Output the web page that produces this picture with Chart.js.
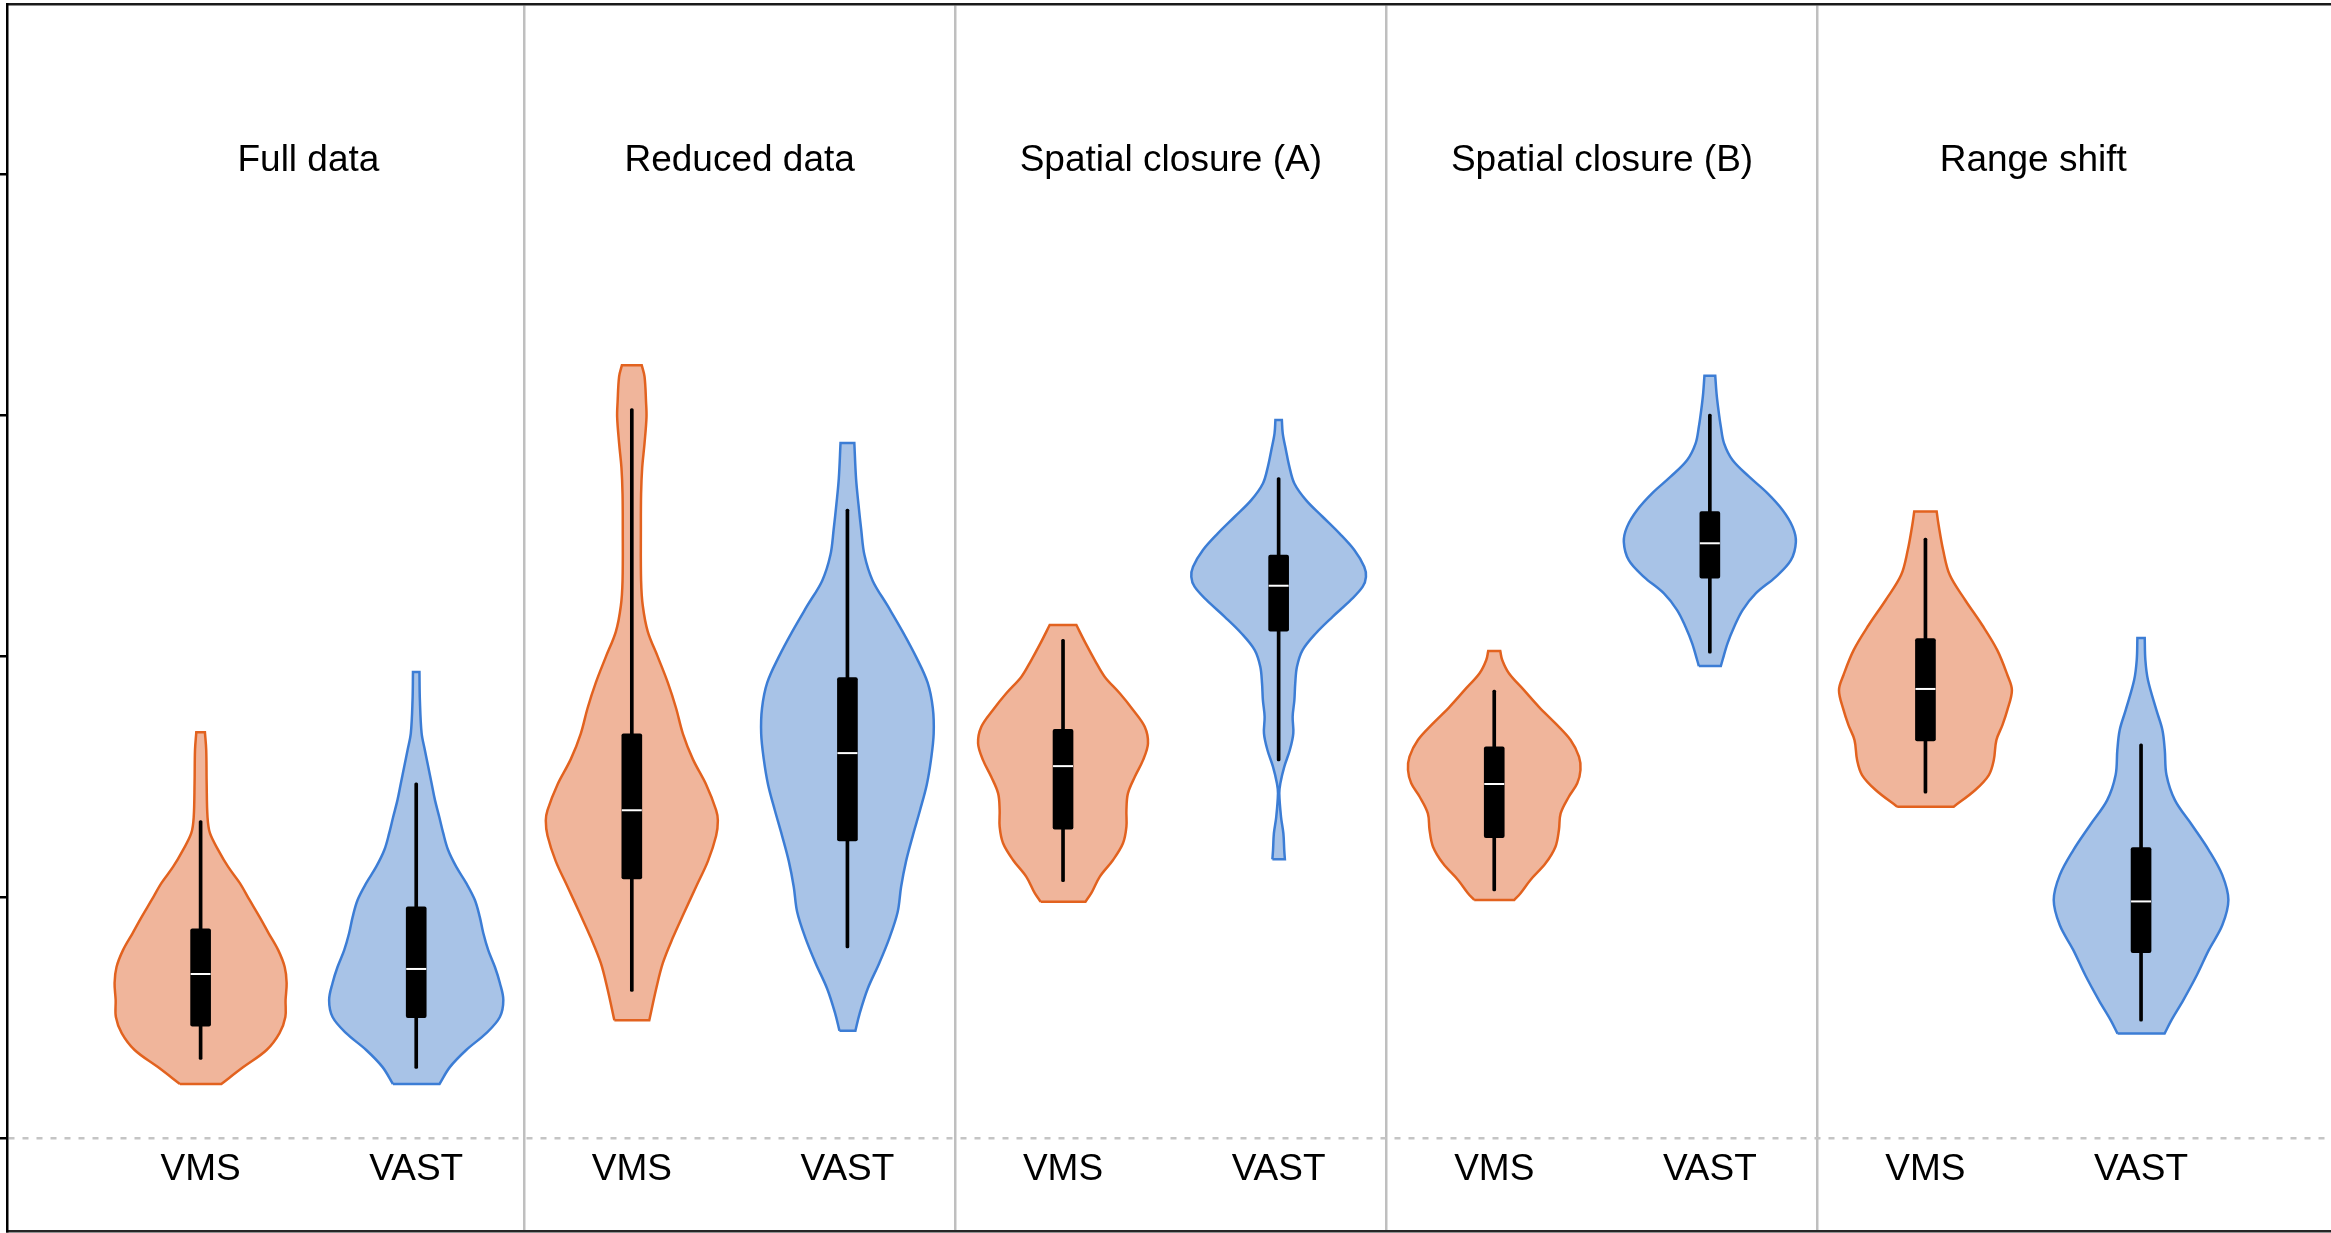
<!DOCTYPE html>
<html>
<head>
<meta charset="utf-8">
<title>VMS vs VAST across scenarios</title>
<script src="https://cdn.jsdelivr.net/npm/chart.js@4.4.1/dist/chart.umd.min.js"></script>
<style>
  html, body { margin: 0; padding: 0; background: #ffffff; overflow: hidden; }
  #chart { display: block; }
</style>
</head>
<body>
<canvas id="chart" width="2331" height="1233"></canvas>
<script>
// ---- categories ----
const scenarios = ['Full data', 'Reduced data', 'Spatial closure (A)', 'Spatial closure (B)', 'Range shift'];
const methods = ['VMS', 'VAST'];
const yTicks = [0, 1, 2, 3, 4];
const panelDividers = [1.5, 3.5, 5.5, 7.5];

// ---- box-plot summaries, one value per scenario ----
const vmsWhiskerLow  = [0.328, 0.610, 1.065, 1.027, 1.432];
const vmsQ1          = [0.466, 1.076, 1.283, 1.247, 1.648];
const vmsMedian      = [0.682, 1.361, 1.544, 1.470, 1.864];
const vmsQ3          = [0.869, 1.678, 1.697, 1.624, 2.073];
const vmsWhiskerHigh = [1.318, 3.026, 2.070, 1.859, 2.490];

const vastWhiskerLow  = [0.291, 0.790, 1.566, 2.012, 0.487];
const vastQ1          = [0.501, 1.234, 2.104, 2.323, 0.771];
const vastMedian      = [0.703, 1.598, 2.292, 2.468, 0.983];
const vastQ3          = [0.961, 1.911, 2.419, 2.599, 1.206];
const vastWhiskerHigh = [1.475, 2.610, 2.740, 3.004, 1.636];

// ---- violin density profiles: [value, half-width], bottom to top ----
const vmsFullDensity = [[0.226,0.096],[0.296,0.198],[0.367,0.306],[0.437,0.366],[0.504,0.393],[0.574,0.394],[0.645,0.399],[0.711,0.390],[0.781,0.360],[0.852,0.315],[0.918,0.274],[0.989,0.227],[1.059,0.182],[1.126,0.128],[1.196,0.082],[1.267,0.043],[1.333,0.032],[1.474,0.028],[1.611,0.026],[1.684,0.020]];
const vmsReducedDensity = [[0.490,0.081],[0.621,0.113],[0.728,0.144],[0.832,0.190],[0.939,0.244],[1.044,0.298],[1.150,0.353],[1.255,0.391],[1.319,0.399],[1.362,0.391],[1.467,0.345],[1.573,0.283],[1.678,0.237],[1.785,0.205],[1.890,0.167],[1.996,0.121],[2.102,0.074],[2.208,0.051],[2.313,0.043],[2.524,0.042],[2.672,0.043],[2.780,0.048],[2.883,0.059],[2.991,0.068],[3.053,0.066],[3.159,0.059],[3.206,0.046]];
const vmsClosureADensity = [[0.982,0.104],[1.017,0.131],[1.085,0.170],[1.155,0.232],[1.224,0.278],[1.293,0.294],[1.362,0.294],[1.431,0.301],[1.500,0.333],[1.569,0.371],[1.638,0.394],[1.707,0.379],[1.777,0.325],[1.846,0.263],[1.915,0.193],[1.984,0.147],[2.053,0.105],[2.129,0.062]];
const vmsClosureBDensity = [[0.989,0.093],[1.017,0.122],[1.072,0.168],[1.141,0.238],[1.210,0.284],[1.279,0.300],[1.348,0.308],[1.417,0.346],[1.473,0.385],[1.528,0.400],[1.583,0.393],[1.652,0.354],[1.721,0.284],[1.790,0.207],[1.859,0.138],[1.929,0.068],[1.984,0.037],[2.021,0.028]];
const vmsRangeShiftDensity = [[1.376,0.131],[1.445,0.231],[1.507,0.294],[1.569,0.317],[1.652,0.329],[1.714,0.357],[1.777,0.380],[1.859,0.401],[1.922,0.380],[2.025,0.333],[2.129,0.263],[2.233,0.184],[2.336,0.113],[2.440,0.082],[2.544,0.061],[2.600,0.052]];

const vastFullDensity = [[0.226,0.108],[0.296,0.156],[0.367,0.232],[0.437,0.325],[0.504,0.388],[0.574,0.404],[0.645,0.388],[0.711,0.365],[0.781,0.334],[0.852,0.311],[0.918,0.295],[0.989,0.272],[1.059,0.232],[1.126,0.186],[1.196,0.148],[1.267,0.125],[1.333,0.107],[1.403,0.087],[1.474,0.071],[1.540,0.056],[1.611,0.040],[1.681,0.025],[1.818,0.017],[1.934,0.015]];
const vastReducedDensity = [[0.447,0.037],[0.516,0.056],[0.621,0.094],[0.728,0.148],[0.832,0.195],[0.939,0.233],[1.044,0.249],[1.150,0.272],[1.255,0.303],[1.362,0.337],[1.467,0.368],[1.573,0.388],[1.678,0.400],[1.785,0.396],[1.890,0.372],[1.996,0.319],[2.102,0.256],[2.208,0.187],[2.313,0.117],[2.419,0.079],[2.524,0.064],[2.631,0.051],[2.736,0.040],[2.884,0.032]];
const vastClosureADensity = [[1.158,0.029],[1.196,0.026],[1.265,0.022],[1.334,0.011],[1.431,0.003],[1.473,0.008],[1.541,0.026],[1.611,0.052],[1.680,0.068],[1.749,0.065],[1.818,0.073],[1.887,0.077],[1.956,0.085],[2.025,0.111],[2.095,0.173],[2.163,0.250],[2.233,0.335],[2.288,0.390],[2.329,0.405],[2.371,0.397],[2.440,0.351],[2.509,0.282],[2.578,0.204],[2.647,0.127],[2.716,0.073],[2.785,0.050],[2.854,0.034],[2.924,0.019],[2.979,0.015]];
const vastClosureBDensity = [[1.959,0.051],[1.984,0.059],[2.053,0.082],[2.122,0.113],[2.191,0.152],[2.260,0.213],[2.329,0.306],[2.398,0.376],[2.474,0.399],[2.536,0.384],[2.606,0.337],[2.675,0.268],[2.744,0.182],[2.813,0.105],[2.882,0.066],[2.951,0.051],[3.020,0.040],[3.090,0.031],[3.163,0.025]];
const vastRangeShiftDensity = [[0.435,0.109],[0.491,0.141],[0.574,0.196],[0.678,0.259],[0.781,0.314],[0.885,0.377],[0.989,0.405],[1.092,0.377],[1.196,0.314],[1.300,0.236],[1.403,0.157],[1.507,0.118],[1.611,0.110],[1.694,0.099],[1.777,0.071],[1.901,0.032],[1.984,0.020],[2.075,0.017]];

// ---- axis extents and text placement (in axis units) ----
const xRange = [-0.898, 9.881];
const yRange = [-0.3835, 4.704];
const titleBaseline = 4.01;
const methodBaseline = -0.172;

const methodStyles = {
  VMS:  { fill: '#F0B59B', stroke: '#E2621F' },
  VAST: { fill: '#A8C3E7', stroke: '#3C7DD5' }
};

const violinProfiles = {
  VMS:  [vmsFullDensity, vmsReducedDensity, vmsClosureADensity, vmsClosureBDensity, vmsRangeShiftDensity],
  VAST: [vastFullDensity, vastReducedDensity, vastClosureADensity, vastClosureBDensity, vastRangeShiftDensity]
};
const boxStats = {
  VMS:  { low: vmsWhiskerLow,  q1: vmsQ1,  median: vmsMedian,  q3: vmsQ3,  high: vmsWhiskerHigh },
  VAST: { low: vastWhiskerLow, q1: vastQ1, median: vastMedian, q3: vastQ3, high: vastWhiskerHigh }
};

// x position of a method inside a scenario panel
function slot(k, m) { return 2 * k + m; }

// Closed outline of a violin: flat bottom cap, right side up, flat top cap, left side down.
// Cap corners are listed twice so the spline keeps them sharp.
function outline(center, profile) {
  const n = profile.length;
  const [y0, w0] = profile[0];
  const [yn, wn] = profile[n - 1];
  const pts = [{ x: center - w0, y: y0 }];
  pts.push({ x: center + w0, y: y0 }, { x: center + w0, y: y0 });
  for (let i = 1; i < n - 1; i++) pts.push({ x: center + profile[i][1], y: profile[i][0] });
  pts.push({ x: center + wn, y: yn }, { x: center + wn, y: yn });
  pts.push({ x: center - wn, y: yn }, { x: center - wn, y: yn });
  for (let i = n - 2; i >= 1; i--) pts.push({ x: center - profile[i][1], y: profile[i][0] });
  pts.push({ x: center - w0, y: y0 });
  return pts;
}

const datasets = [];
methods.forEach((m, mi) => {
  violinProfiles[m].forEach((profile, k) => {
    datasets.push({
      type: 'line',
      label: m + ' · ' + scenarios[k],
      data: outline(slot(k, mi), profile),
      backgroundColor: methodStyles[m].fill,
      borderColor: methodStyles[m].stroke,
      borderWidth: 2.5,
      tension: 0.35,
      fill: 'shape',
      pointRadius: 0,
      order: 3
    });
  });
  const s = boxStats[m];
  datasets.push({
    type: 'bar',
    label: m + ' whiskers',
    data: scenarios.map((_, k) => ({ x: slot(k, mi), y: [s.low[k], s.high[k]] })),
    backgroundColor: '#000000',
    barThickness: 3,
    grouped: false,
    borderRadius: 1.5,
    borderSkipped: false,
    order: 2
  });
  datasets.push({
    type: 'bar',
    label: m + ' interquartile range',
    data: scenarios.map((_, k) => ({ x: slot(k, mi), y: [s.q1[k], s.q3[k]] })),
    backgroundColor: '#000000',
    barThickness: 20,
    grouped: false,
    borderRadius: 2,
    borderSkipped: false,
    order: 1
  });
  datasets.push({
    type: 'line',
    label: m + ' median',
    data: scenarios.map((_, k) => ({ x: slot(k, mi), y: s.median[k] })),
    showLine: false,
    pointStyle: 'line',
    pointRadius: 10,
    pointBorderColor: '#ffffff',
    pointBorderWidth: 2,
    order: 0
  });
});

// Scenario titles and method names, placed with the chart's own scales
const panelLabels = {
  id: 'panelLabels',
  afterDatasetsDraw(chart) {
    const { ctx, scales: { x, y } } = chart;
    ctx.save();
    ctx.fillStyle = '#000000';
    ctx.font = '37px "Liberation Sans", Arial, sans-serif';
    ctx.textAlign = 'center';
    ctx.textBaseline = 'alphabetic';
    scenarios.forEach((name, k) => {
      ctx.fillText(name, x.getPixelForValue(slot(k, 0.5)), y.getPixelForValue(titleBaseline));
      methods.forEach((m, mi) => {
        ctx.fillText(m, x.getPixelForValue(slot(k, mi)), y.getPixelForValue(methodBaseline));
      });
    });
    ctx.restore();
  }
};

new Chart(document.getElementById('chart'), {
  type: 'bar',
  data: { datasets },
  plugins: [panelLabels],
  options: {
    responsive: false,
    animation: false,
    devicePixelRatio: 1,
    layout: { autoPadding: false, padding: { top: 4, bottom: 2, left: 0, right: 0 } },
    plugins: {
      legend: { display: false },
      tooltip: { enabled: false }
    },
    scales: {
      x: {
        type: 'linear',
        position: 'bottom',
        min: xRange[0],
        max: xRange[1],
        offset: false,
        ticks: { display: false },
        grid: { display: false, drawTicks: false, tickLength: 0, offset: false },
        border: { display: true, color: '#262626', width: 2.5 }
      },
      xTop: {
        type: 'linear',
        axis: 'x',
        position: 'top',
        min: xRange[0],
        max: xRange[1],
        offset: false,
        ticks: { display: false },
        grid: { display: true, offset: false, drawTicks: false, tickLength: 0, color: '#BFBFBF', lineWidth: 2.5 },
        border: { display: true, color: '#1A1A1A', width: 2.5 },
        afterBuildTicks: axis => { axis.ticks = panelDividers.map(v => ({ value: v })); }
      },
      y: {
        type: 'linear',
        position: 'left',
        min: yRange[0],
        max: yRange[1],
        ticks: { display: false },
        grid: {
          display: true,
          drawOnChartArea: true,
          drawTicks: true,
          tickLength: 7,
          tickColor: '#000000',
          tickWidth: 2.5,
          lineWidth: 2.5,
          color: c => (c.tick && c.tick.value === 0) ? '#C4C4C4' : 'rgba(0,0,0,0)'
        },
        border: { display: true, color: '#000000', width: 2.5, dash: [6, 8] },
        afterBuildTicks: axis => { axis.ticks = yTicks.map(v => ({ value: v })); }
      }
    }
  }
});
</script>
</body>
</html>
